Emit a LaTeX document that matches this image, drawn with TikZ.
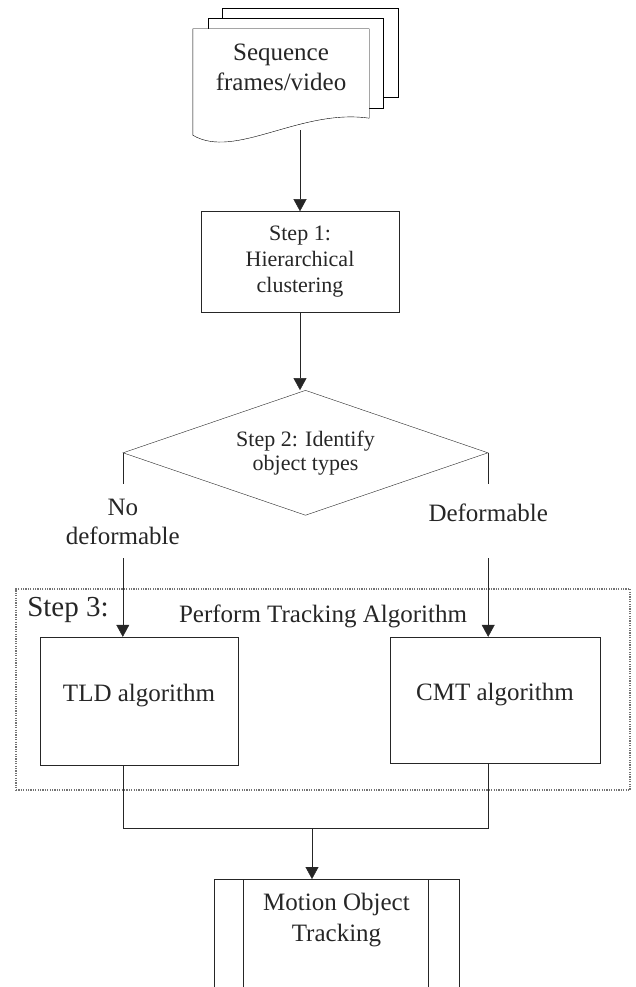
\documentclass[tikz,border=0pt]{standalone}
\usepackage{fontspec}
\setmainfont{Liberation Serif}
\usetikzlibrary{arrows.meta,positioning,shapes.geometric,calc,backgrounds}
\tikzset{
    >={Triangle[width=13pt,length=12pt]},
    x=1pt, y=1pt,
    line width=1.8pt,
    %node distance=2cm,
    every node/.style={align=center},
    page/.style={minimum width=176pt,minimum height=76pt,inner sep=0pt,font=\fontsize{25}{30}\selectfont},
    stepbox/.style={rectangle,draw,inner sep=0pt,font=\fontsize{22}{26}\selectfont},
    decision/.style={diamond,draw,aspect=2.92,inner sep=0pt,minimum width=365pt,minimum height=125pt,font=\fontsize{22}{24}\selectfont},
    branch/.style={fill=white,inner sep=0pt,minimum height=74pt,font=\fontsize{25}{29}\selectfont},
    algo/.style={rectangle,draw,inner sep=0pt,text height=17pt,text depth=17pt,font=\fontsize{25}{30}\selectfont},
    group/.style={rectangle,draw=black!55,dash pattern=on 1.2pt off 1.2pt,line width=1.8pt,inner sep=0pt}
}
\begin{document}
\begin{tikzpicture}[color=black!85]
    \useasboundingbox (0,0) rectangle (635,-987);
    \coordinate (floor) at (0,-987);

    \node[page] (frames) at (281,-67) {Sequence\\frames/video};
    \begin{scope}[on background layer]
        \draw[fill=white] ($(frames.north west)+(29,21)$) rectangle ($(frames.north east)+(29,-68)$);
        \draw[fill=white] ($(frames.north west)+(15,11)$) rectangle ($(frames.north east)+(14,-79)$);
        \draw[fill=white] (frames.north west) -- ($(frames.south west)+(0,-30)$)
            .. controls +(42,-25) and +(-69,10) .. ($(frames.south east)+(0,-13)$)
            -- (frames.north east) -- cycle;
    \end{scope}

    \node[stepbox, minimum width=198pt, minimum height=101pt] (step1) [below = 106pt of frames, xshift=19pt] {Step 1:\\Hierarchical\\clustering};
    \node[decision] (dia) [below = 77.5pt of step1, xshift=5.5pt] {Step 2: Identify\\object types};

    % step 3 frame with both trackers
    \node[group, minimum width=614pt, minimum height=201pt] (track) at (323,-689.5) {};
    \node[inner sep=0pt, font=\fontsize{29}{30}\selectfont] (step3) [below right = 9pt and 12pt of track.north west] {Step 3:};
    \node[inner sep=0pt, font=\fontsize{25}{30}\selectfont] (perform) [below = 17pt of track.north] {Perform Tracking Algorithm};
    \node[algo, minimum width=198pt, minimum height=128pt] (tld) at (139,-701) {TLD algorithm};
    \node[algo, minimum width=210pt, minimum height=126pt] (cmt) at (495,-700) {CMT algorithm};

    \coordinate (wave) at ($(frames.south -| step1.north)+(0,-25)$);
    \coordinate (merge) at (312,-828);
    \node[inner sep=0pt, minimum width=245pt, font=\fontsize{25}{31}\selectfont] (motion) [below = 65pt of merge, xshift=24.5pt] {Motion Object\\Tracking};
    \coordinate (mtop) at ($(motion.north)+(0,14)$);
    \draw (motion.west |- floor) -- (motion.west |- mtop) -- (motion.east |- mtop) -- (motion.east |- floor);
    \draw ($(motion.west |- mtop)+(29,0)$) -- ($(motion.west |- floor)+(29,0)$);
    \draw ($(motion.east |- mtop)+(-31,0)$) -- ($(motion.east |- floor)+(-31,0)$);

    \path[->]
        (wave) edge (step1)
        (step1.south) edge (step1.south |- dia.north)
        (dia.west) edge node[branch, pos=0.373] {No\\deformable} (dia.west |- tld.north)
        (dia.east) edge node[branch, pos=0.373, text height=17pt, text depth=17pt] {Deformable} (dia.east |- cmt.north)
        (merge) edge (merge |- mtop)
        ;
    \draw (tld.south -| dia.west) -- (dia.west |- merge) -- (dia.east |- merge) -- (cmt.south -| dia.east);
\end{tikzpicture}
\end{document}
